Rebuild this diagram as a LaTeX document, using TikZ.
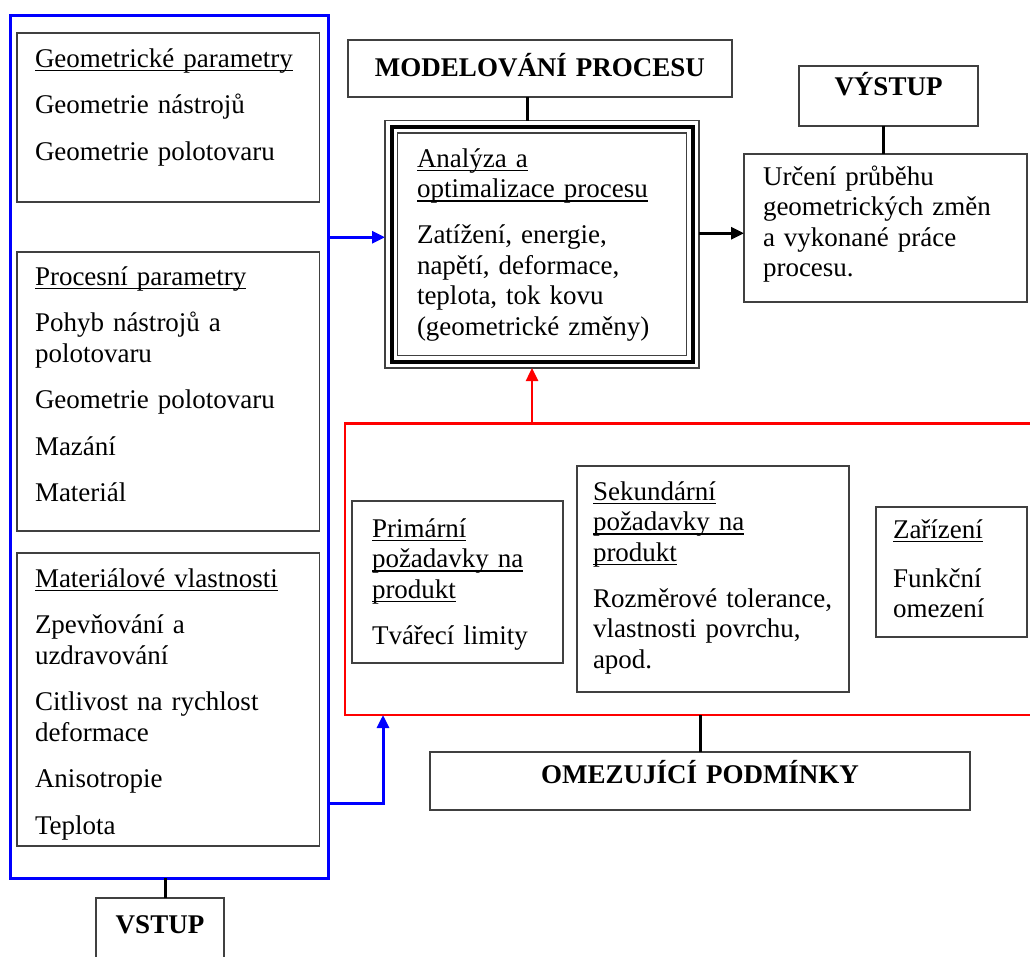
\documentclass[tikz,border=0pt]{standalone}
\usepackage{fontspec}
\setmainfont{Liberation Serif}
\usetikzlibrary{positioning,arrows.meta}

% underlined heading line, rule through the descenders
\newcommand{\ult}[1]{\leavevmode\setbox0=\hbox{#1}\rlap{\rule[-4pt]{\wd0}{1.2pt}}\box0}

\begin{document}
\begin{tikzpicture}[
  x=1pt, y=-1pt,
  font=\fontsize{27}{30.5}\selectfont,
  panel/.style={draw=black!75, line width=1.3pt, outer sep=0pt, inner ysep=0pt, anchor=north west, align=left},
  title/.style={panel, align=center, inner xsep=0pt, font=\fontsize{27}{30.5}\selectfont\bfseries},
  frame/.style={outer sep=0pt, inner sep=0pt},
  arr/.style={-{Triangle[length=13pt,width=12pt]}, line width=3pt},
  link/.style={line width=3pt}
]
\path[use as bounding box] (0,0) rectangle (1030,956);
\clip (0,0) rectangle (1030,956);

% vstup
\node[frame, draw=blue, line width=3pt, minimum width=317.5pt, minimum height=863pt] (inbox) at (169.25,446.5) {};
\node[panel, text width=266.5pt, inner xsep=18pt, text height=34pt, text depth=135pt] (geo) at (17,33)
  {\ult{Geometrické parametry}\\[16pt] Geometrie nástrojů\\[16pt] Geometrie polotovaru};
\node[panel, below=50pt of geo, text width=266.5pt, inner xsep=18pt, text height=33pt, text depth=246pt] (proc)
  {\ult{Procesní parametry}\\[16pt] Pohyb nástrojů a\\ polotovaru\\[16pt] Geometrie polotovaru\\[16pt] Mazání\\[16pt] Materiál};
\node[panel, below=22pt of proc, text width=266.5pt, inner xsep=18pt, text height=34pt, text depth=259pt] (mat)
  {\ult{Materiálové vlastnosti}\\[16pt] Zpevňování a\\ uzdravování\\[16pt] Citlivost na rychlost\\ deformace\\[16pt] Anisotropie\\[16pt] Teplota};
\node[title, text width=128pt, text height=35pt, text depth=40pt] (vstup) at (96,898) {VSTUP};

% modelovani
\node[title, text width=384pt, text height=36pt, text depth=21pt] (model) at (348,40) {MODELOVÁNÍ PROCESU};
\node[panel, text width=250pt, inner xsep=32pt, text height=46.5pt, text depth=201pt] (ana) at (385,120.5)
  {\ult{Analýza a}\\ \ult{optimalizace procesu}\\[15.5pt] Zatížení, energie,\\ napětí, deformace,\\ teplota, tok kovu\\ (geometrické změny)};
\draw[line width=4pt] ([xshift=6.5pt,yshift=-6.5pt]ana.north west) rectangle ([xshift=-6.5pt,yshift=6.5pt]ana.south east);
\draw[line width=1.3pt, black!75] ([xshift=12.5pt,yshift=-12.5pt]ana.north west) rectangle ([xshift=-12.5pt,yshift=12.5pt]ana.south east);

% vystup
\node[title, text width=179pt, text height=29pt, text depth=31pt] (vystup) at (799,66) {VÝSTUP};
\node[panel, text width=245pt, inner xsep=19pt, text height=31pt, text depth=117pt] (out) at (744,154)
  {Určení průběhu\\ geometrických změn\\ a vykonané práce\\ procesu.};

% omezujici podminky
\node[frame, draw=red, line width=2.8pt, minimum width=700pt, minimum height=291.5pt] (cons) at (695,569.25) {};
\node[panel, text width=171pt, inner xsep=20pt, text height=36pt, text depth=126pt] (prim) at (352,501)
  {\ult{Primární}\\ \ult{požadavky na}\\ \ult{produkt}\\[15.5pt] Tvářecí limity};
\node[panel, text width=240pt, inner xsep=16pt, text height=34pt, text depth=192pt] (sek) at (577,466)
  {\ult{Sekundární}\\ \ult{požadavky na}\\ \ult{produkt}\\[15.5pt] Rozměrové tolerance,\\ vlastnosti povrchu,\\ apod.};
\node[panel, text width=117pt, inner xsep=17pt, text height=31pt, text depth=99pt] (zar) at (876,507)
  {\ult{Zařízení}\\[18.5pt] Funkční\\ omezení};
\node[title, text width=540pt, text height=31pt, text depth=27pt] (omez) at (430,752) {OMEZUJÍCÍ PODMÍNKY};

% spojnice
\coordinate (m1) at ([xshift=-13pt]model.south);
\coordinate (v1) at ([xshift=-5pt]vystup.south);
\coordinate (s1) at ([xshift=5pt]vstup.north);
\coordinate (a1) at ([yshift=7pt]ana.west);
\coordinate (a2) at ([yshift=11pt]ana.east);
\coordinate (a3) at ([xshift=-10pt]ana.south);
\coordinate (a4) at (383,803);
\draw[link] (m1) -- (m1 |- ana.north);
\draw[link] (v1) -- (v1 |- out.north);
\draw[link] (s1) -- (s1 |- inbox.south);
\draw[link] (omez.north) -- (omez.north |- cons.south);
\draw[arr, blue] (inbox.east |- a1) -- (a1);
\draw[arr] (a2) -- (a2 -| out.west);
\draw[arr, red, line width=2.5pt] (a3 |- cons.north) -- (a3);
\draw[arr, blue] (inbox.east |- a4) -| (cons.south -| a4);
\end{tikzpicture}
\end{document}
